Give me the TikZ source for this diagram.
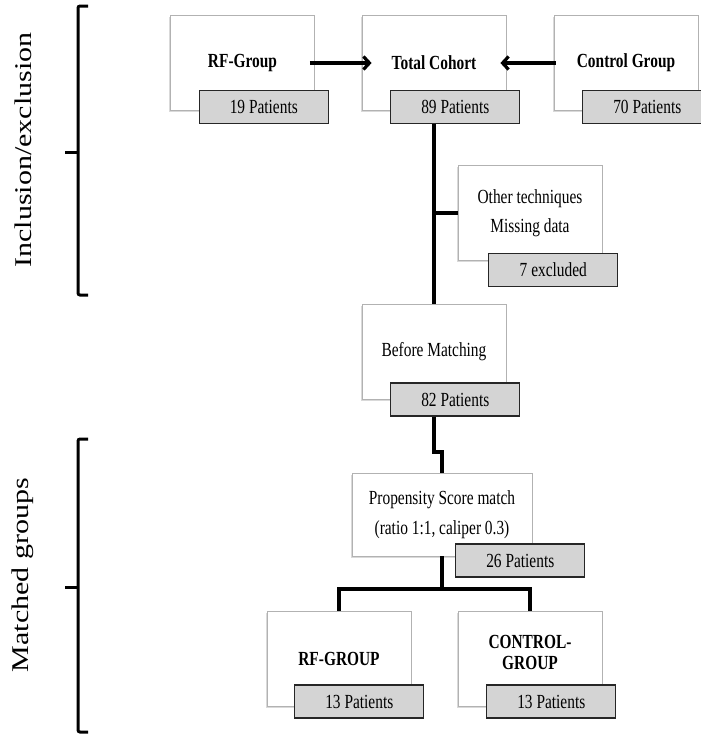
\documentclass[tikz,border=0pt]{standalone}
\usepackage{graphicx}
\usepackage{fontspec}
\setmainfont{Liberation Serif}
\newfontfamily\narrowfont{Liberation Serif}[FakeStretch=0.77]
\usetikzlibrary{arrows.meta,positioning,shadows}

\tikzset{
  box/.style={draw=black!30, fill=white, line width=0.8pt, minimum width=144pt, minimum height=95pt,
    align=center, font=\narrowfont\fontsize{20}{24}\selectfont,
    drop shadow={shadow xshift=-1.5pt, shadow yshift=-1.5pt, opacity=0.3}},
  heading/.style={font=\narrowfont\bfseries\fontsize{20}{24}\selectfont},
  count/.style={draw=black!85, fill=black!17, line width=1.2pt, minimum width=129pt, minimum height=33pt,
    anchor=north east, font=\narrowfont\fontsize{20}{24}\selectfont},
  link/.style={line width=3.2pt},
  brace/.style={line width=3pt, rounded corners=2pt},
  side/.style={rotate=90, font=\fontsize{30}{34}\selectfont}
}

\begin{document}
\begin{tikzpicture}[x=1pt, y=-1pt, >={Straight Barb[length=6pt,width=13pt]}]
     \useasboundingbox (0,0) rectangle (701,734);
     \node[box,heading] (rf) at (242.5,63) {RF-Group};
     \node[box,heading] (total) at (434,63) {Total Cohort};
     \node[box,heading] (ctrl) at (626,63) {Control Group};
     \node[box] (other) at (530,213) {Other techniques\\[5pt]Missing data};
     \node[box] (before) at (434,351.5) {Before Matching};
     \node[box, minimum width=180pt, minimum height=83pt] (psm) at (442,514.5) {Propensity Score match\\[6pt](ratio 1:1, caliper 0.3)};
     \node[box,heading] (rfg) at (339,658.5) {RF-GROUP};
     \node[box,heading,text depth=12pt] (ctg) at (530,658.5) {CONTROL-\\[-3pt]GROUP};

     \node[count] (rfn) at ([shift={(14,-21)}]rf.south east) {19 Patients};
     \node[count] (totaln) at ([shift={(14,-21)}]total.south east) {89 Patients};
     \node[count] (ctrln) at ([shift={(14,-21)}]ctrl.south east) {70 Patients};
     \node[count] (othern) at ([shift={(16,-8)}]other.south east) {7 excluded};
     \node[count] (beforen) at ([shift={(14,-17)}]before.south east) {82 Patients};
     \node[count] (psmn) at ([shift={(53,-13)}]psm.south east) {26 Patients};
     \node[count] (rfgn) at ([shift={(13,-22)}]rfg.south east) {13 Patients};
     \node[count] (ctgn) at ([shift={(14,-22)}]ctg.south east) {13 Patients};

     \draw[link,->,shorten <=-5pt,shorten >=-10pt] (rf) -- (total);
     \draw[link,->,shorten <=-2pt,shorten >=-6pt] (ctrl) -- (total);
     \draw[link] (total |- totaln.south) -- (before);
     \draw[link] (other.west -| total) -- (other);
     \draw[link] (before |- beforen.south) -- (before |- 0,452) -| (psm);
     \draw[link] (psm.south) -- (psm.south |- 0,589) -| (rfg);
     \draw[link] (psm.south |- 0,589) -| (ctg);

     \draw[brace] (88,6) -- (78,6) -- (78,295) -- (88,295);
     \draw[brace] (78,152) -- (65,152);
     \draw[brace] (88,439) -- (78,439) -- (78,732) -- (88,732);
     \draw[brace] (78,587) -- (65,587);

     \node[side] (incl) at (23,150) {\scalebox{1}[0.8]{Inclusion/exclusion}};
     \node[side] (match) at (23,575) {\scalebox{1}[0.8]{Matched groups}};
\end{tikzpicture}
\end{document}
